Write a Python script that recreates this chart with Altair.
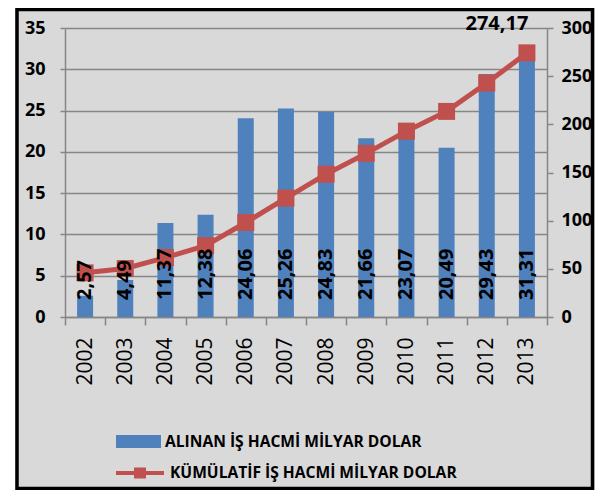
import altair as alt
import pandas as pd

# ---- data ----
years = ["2002", "2003", "2004", "2005", "2006", "2007",
         "2008", "2009", "2010", "2011", "2012", "2013"]
alinan = [2.57, 4.49, 11.37, 12.38, 24.06, 25.26, 24.83, 21.66, 23.07, 20.49, 29.43, 31.31]
alinan_labels = ["2,57", "4,49", "11,37", "12,38", "24,06", "25,26",
                 "24,83", "21,66", "23,07", "20,49", "29,43", "31,31"]
kumulatif = [45.82, 50.31, 61.68, 74.06, 98.12, 123.38, 148.21, 169.87, 192.94, 213.43, 242.86, 274.17]
kum_labels = ["", "", "", "", "", "", "", "", "", "", "", "274,17"]
seri_1 = "ALINAN İŞ HACMİ MİLYAR DOLAR"
seri_2 = "KÜMÜLATİF İŞ HACMİ MİLYAR DOLAR"
left_ticks = [0, 5, 10, 15, 20, 25, 30, 35]
right_ticks = [0, 50, 100, 150, 200, 250, 300]

df = pd.DataFrame({
    "yil": years, "alinan": alinan, "etiket": alinan_labels,
    "kum": kumulatif, "kum_etiket": kum_labels,
    "s1": seri_1, "s2": seri_2,
})

BLUE = "#4f81bd"
RED = "#c0504d"
GRID = "#868686"
FONT = "Open Sans"

base = alt.Chart(df)

x_main = alt.X(
    "yil:N", sort=years, title=None,
    scale=alt.Scale(paddingInner=0, paddingOuter=0),
    axis=alt.Axis(
        tickBand="extent", tickSize=8, tickColor=GRID, tickWidth=1.5,
        domainColor=GRID, domainWidth=1.5, grid=False,
        labelAngle=270, labelAlign="right", labelBaseline="middle",
        labelPadding=12, labelFont=FONT, labelFontSize=21, labelColor="black",
        labelOverlap=False,
    ),
)

bars = base.mark_bar(size=16).encode(
    x=x_main,
    y=alt.Y("alinan:Q", title=None,
            scale=alt.Scale(domain=[0, 35], nice=False),
            axis=alt.Axis(values=left_ticks, grid=True, gridColor=GRID, gridWidth=1.5,
                          domainColor=GRID, domainWidth=1.5, tickColor=GRID, tickWidth=1.5,
                          tickSize=5, labelPadding=15, labelFont=FONT, labelFontSize=18,
                          labelFontWeight="bold", labelColor="black")),
    fill=alt.Fill("s1:N", title=None, scale=alt.Scale(range=[BLUE]),
                  legend=alt.Legend(orient="none", legendX=51, legendY=391, padding=0,
                                    symbolType="M-1,-0.29H1V0.29H-1Z", symbolSize=2025,
                                    symbolStrokeWidth=0, labelOffset=4,
                                    labelFont=FONT, labelFontSize=15.6, labelFontWeight="bold",
                                    labelColor="black", labelLimit=400)),
)

line = base.mark_line(strokeWidth=5).encode(
    x=x_main,
    y=alt.Y("kum:Q", title=None,
            scale=alt.Scale(domain=[0, 300], nice=False),
            axis=alt.Axis(orient="right", values=right_ticks, grid=False,
                          domainColor=GRID, domainWidth=1.5, tickColor=GRID, tickWidth=1.5,
                          tickSize=6, labelPadding=8, labelFont=FONT, labelFontSize=18,
                          labelFontWeight="bold", labelColor="black")),
    stroke=alt.Stroke("s2:N", title=None, scale=alt.Scale(range=[RED]),
                      legend=alt.Legend(orient="none", legendX=49, legendY=419, padding=0,
                                        symbolType="M-1,0H1M-0.25,-0.15H0.25M-0.25,-0.05H0.25M-0.25,0.05H0.25M-0.25,0.15H0.25",
                                        symbolSize=2304, symbolStrokeWidth=4, labelOffset=4,
                                        labelFont=FONT, labelFontSize=15.6, labelFontWeight="bold",
                                        labelColor="black", labelLimit=400)),
)

squares = base.mark_square(size=289, color=RED, opacity=1).encode(
    x=x_main,
    y=alt.Y("kum:Q"),
)

# bar value labels, anchored at value 0 (same pixel row on both y scales)
bar_labels = base.mark_text(angle=270, align="left", baseline="middle", dx=17,
                            font=FONT, fontSize=20, fontWeight="bold", color="black").encode(
    x=x_main,
    y=alt.datum(0),
    text="etiket:N",
)

top_label = base.mark_text(font=FONT, fontSize=20, fontWeight="bold", color="black",
                           dx=-30, dy=-29, baseline="middle").encode(
    x=x_main,
    y=alt.Y("kum:Q"),
    text="kum_etiket:N",
).transform_filter("datum.kum_etiket != ''")

frame_df = pd.DataFrame({"k": [0]})
white_left = alt.Chart(frame_df).mark_rect(color="white").encode(
    x=alt.value(-58), x2=alt.value(-50), y=alt.value(-21), y2=alt.value(463))
frame = alt.Chart(frame_df).mark_rect(filled=False, stroke="black", strokeWidth=3.5).encode(
    x=alt.value(-48), x2=alt.value(527.5), y=alt.value(-18.5), y2=alt.value(460.5))

left_group = alt.layer(white_left, frame, bars)
right_group = alt.layer(line, squares, bar_labels, top_label)

chart = alt.layer(left_group, right_group).resolve_scale(
    y="independent", fill="independent", stroke="independent"
).properties(
    width=482, height=289,
    autosize=alt.AutoSizeParams(type="none"),
    padding={"left": 57, "top": 20, "right": 48, "bottom": 173},
    background="#d9d9d9",
).configure_view(stroke=None)

chart.save("out.html", embed_options={"renderer": "svg", "actions": False})
